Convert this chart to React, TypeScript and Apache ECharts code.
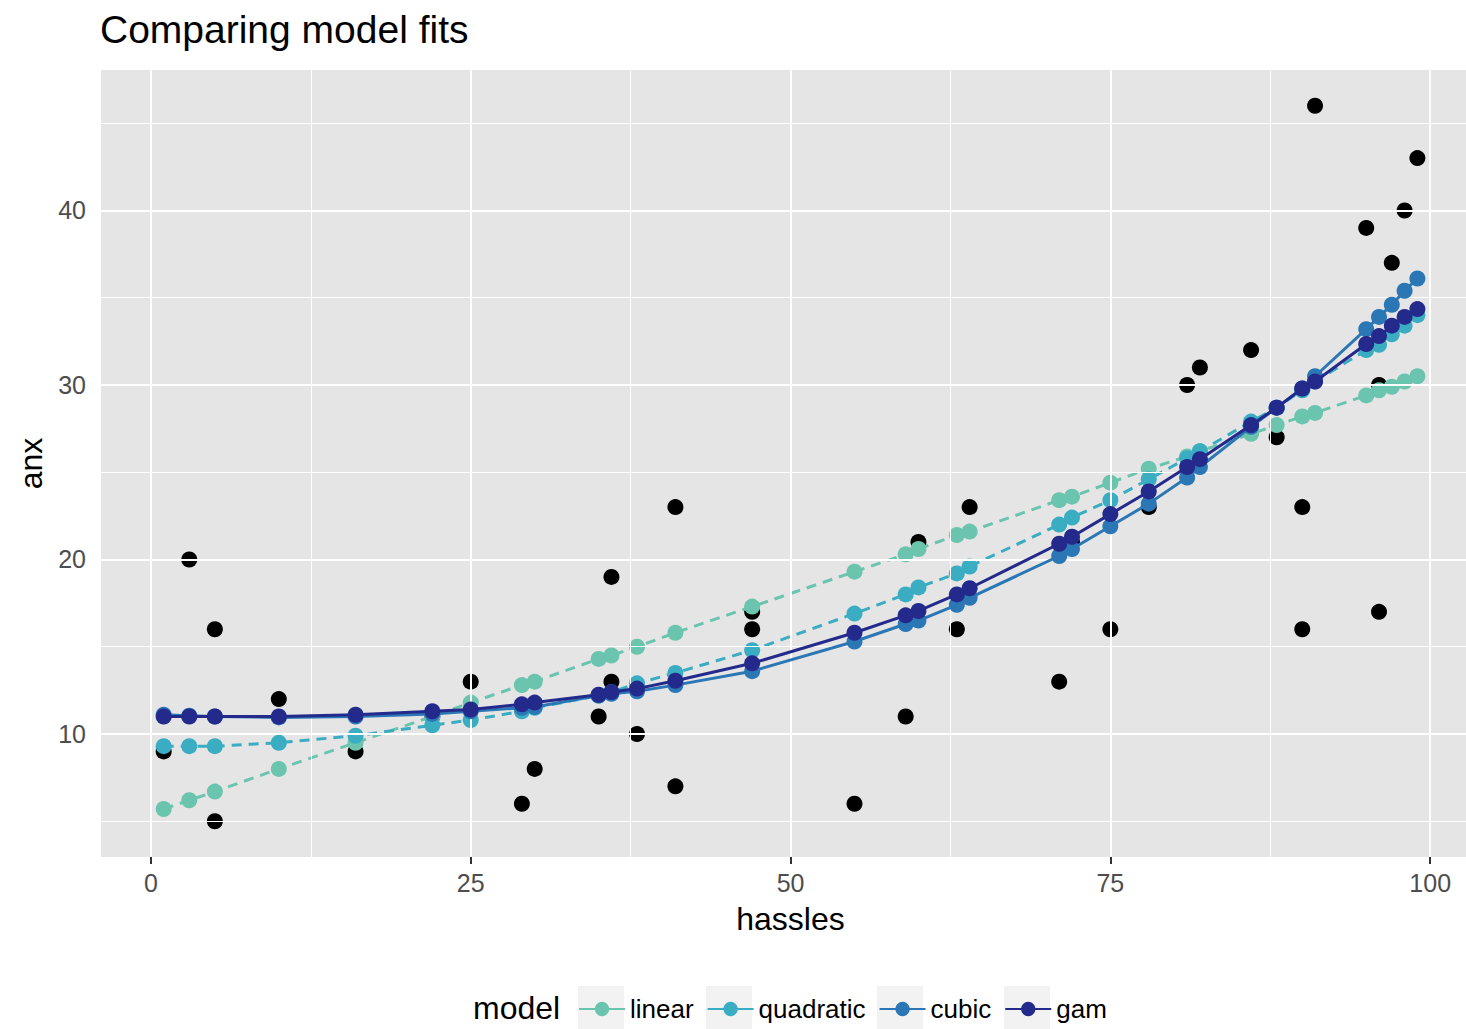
import React, { useEffect, useRef } from "react";
import * as echarts from "echarts";

// prediction grid (unique hassles values)
const hassles = [1, 3, 5, 10, 16, 22, 25, 29, 30, 35, 36, 38, 41, 47, 55, 59, 60, 63, 64, 71, 72, 75, 78, 81, 82, 86, 88, 90, 91, 95, 96, 97, 98, 99];

// observed data
const obsHassles = [1, 3, 5, 5, 10, 16, 22, 25, 29, 30, 35, 36, 36, 38, 41, 41, 47, 47, 55, 59, 60, 63, 64, 71, 72, 75, 78, 81, 82, 86, 88, 90, 90, 91, 95, 96, 96, 97, 98, 99];
const obsAnx = [9, 20, 16, 5, 12, 9, 11, 13, 6, 8, 11, 19, 13, 10, 23, 7, 17, 16, 6, 11, 21, 16, 23, 13, 21, 16, 23, 30, 31, 32, 27, 23, 16, 46, 39, 17, 30, 37, 40, 43];

// model predictions
const linear = [5.7, 6.2, 6.7, 8.0, 9.5, 11.0, 11.8, 12.8, 13.0, 14.3, 14.5, 15.0, 15.8, 17.3, 19.3, 20.3, 20.6, 21.4, 21.6, 23.4, 23.6, 24.4, 25.2, 25.9, 26.2, 27.2, 27.7, 28.2, 28.4, 29.4, 29.7, 29.9, 30.2, 30.5];
const quadratic = [9.3, 9.3, 9.3, 9.5, 9.9, 10.5, 10.8, 11.3, 11.5, 12.2, 12.4, 12.9, 13.5, 14.8, 16.9, 18.0, 18.4, 19.2, 19.6, 22.0, 22.4, 23.4, 24.6, 25.8, 26.2, 27.9, 28.7, 29.7, 30.2, 32.0, 32.3, 32.9, 33.4, 34.0];
const cubic = [11.1, 11.05, 11.0, 10.95, 11.0, 11.15, 11.3, 11.5, 11.55, 12.2, 12.3, 12.45, 12.8, 13.6, 15.3, 16.3, 16.5, 17.4, 17.8, 20.2, 20.6, 21.9, 23.2, 24.7, 25.3, 27.6, 28.7, 29.8, 30.5, 33.2, 33.9, 34.6, 35.4, 36.1];
const gam = [11.0, 11.0, 11.0, 11.0, 11.1, 11.3, 11.4, 11.7, 11.8, 12.25, 12.4, 12.6, 13.05, 14.05, 15.8, 16.8, 17.05, 18.0, 18.35, 20.9, 21.3, 22.6, 23.9, 25.3, 25.75, 27.7, 28.7, 29.8, 30.2, 32.35, 32.8, 33.4, 33.9, 34.35];

const modelNames = ["linear", "quadratic", "cubic", "gam"];
const modelValues = [linear, quadratic, cubic, gam];
const modelColors = ["#6BC4AD", "#3BADC2", "#2B76B4", "#232A8C"];
const modelDashed = [true, true, false, false];

// axes
const xMajor = [0, 25, 50, 75, 100];
const xMinor = [12.5, 37.5, 62.5, 87.5];
const yMajor = [10, 20, 30, 40];
const yMinor = [5, 15, 25, 35, 45];
const xLimits = [-3.9, 102.8];
const yLimits = [2.95, 48.05];

const FONT = "'Liberation Sans', Arial, Helvetica, sans-serif";

export default function App() {
  const ref = useRef<HTMLDivElement>(null);
  useEffect(() => {
    document.body.style.margin = "0";
    const chart = echarts.init(ref.current as HTMLDivElement, null, { renderer: "svg" });

    const gridSeries = [
      {
        type: "line",
        name: "gridMinor",
        data: [],
        z: 1,
        silent: true,
        markLine: {
          silent: true,
          symbol: "none",
          animation: false,
          label: { show: false },
          lineStyle: { color: "#FFFFFF", width: 1, type: "solid" },
          emphasis: { disabled: true },
          data: [...xMinor.map((v) => ({ xAxis: v })), ...yMinor.map((v) => ({ yAxis: v }))],
        },
      },
      {
        type: "line",
        name: "gridMajor",
        data: [],
        z: 1,
        silent: true,
        markLine: {
          silent: true,
          symbol: "none",
          animation: false,
          label: { show: false },
          lineStyle: { color: "#FFFFFF", width: 2, type: "solid" },
          emphasis: { disabled: true },
          data: [...xMajor.map((v) => ({ xAxis: v })), ...yMajor.map((v) => ({ yAxis: v }))],
        },
      },
    ];

    const obsSeries = {
      type: "scatter",
      name: "observed",
      data: obsHassles.map((h, i) => [h, obsAnx[i]]),
      symbol: "circle",
      symbolSize: 16,
      itemStyle: { color: "#000000", opacity: 1 },
      z: 2,
      silent: true,
    };

    const modelSeries = modelNames.map((name, k) => ({
      type: "line",
      name,
      data: hassles.map((h, i) => [h, modelValues[k][i]]),
      symbol: "circle",
      symbolSize: 16,
      showSymbol: true,
      lineStyle: { color: modelColors[k], width: 3, type: modelDashed[k] ? [10, 7] : "solid" },
      itemStyle: { color: modelColors[k], opacity: 1 },
      z: 3 + k,
      silent: true,
    }));

    const keyLefts = [578, 706, 877, 1004];

    chart.setOption({
      animation: false,
      backgroundColor: "#FFFFFF",
      textStyle: { fontFamily: FONT },
      title: [
        {
          text: "Comparing model fits",
          left: 95,
          top: 5,
          textStyle: { fontSize: 39, fontWeight: "normal", color: "#000000", fontFamily: FONT },
        },
        {
          text: "model",
          left: 468,
          top: 987,
          textStyle: { fontSize: 32, fontWeight: "normal", color: "#000000", fontFamily: FONT },
        },
      ],
      graphic: keyLefts.map((l) => ({
        type: "rect",
        left: l,
        top: 986,
        z: -1,
        silent: true,
        shape: { width: 46, height: 46 },
        style: { fill: "#F2F2F2" },
      })),
      legend: {
        data: modelNames,
        left: 573,
        top: 991,
        itemWidth: 46,
        itemHeight: 18,
        itemGap: 13,
        orient: "horizontal",
        lineStyle: { type: "solid" },
        textStyle: { fontSize: 26, color: "#000000", fontFamily: FONT },
        selectedMode: false,
      },
      grid: {
        left: 101,
        top: 70,
        right: 0,
        height: 787,
        show: true,
        backgroundColor: "#E5E5E5",
        borderWidth: 0,
        containLabel: false,
      },
      xAxis: {
        type: "value",
        min: xLimits[0],
        max: xLimits[1],
        name: "hassles",
        nameLocation: "middle",
        nameGap: 46,
        nameTextStyle: { fontSize: 32, color: "#000000", fontFamily: FONT, padding: [0, 0, 0, 14] },
        axisLine: { show: false },
        splitLine: { show: false },
        axisTick: { show: true, customValues: xMajor, length: 7, lineStyle: { color: "#333333", width: 2 } },
        axisLabel: { customValues: xMajor, fontSize: 25, color: "#4D4D4D", margin: 13, fontFamily: FONT },
      },
      yAxis: {
        type: "value",
        min: yLimits[0],
        max: yLimits[1],
        name: "anx",
        nameLocation: "middle",
        nameGap: 52,
        nameRotate: 90,
        nameTextStyle: { fontSize: 32, color: "#000000", fontFamily: FONT },
        axisLine: { show: false },
        splitLine: { show: false },
        axisTick: { show: true, customValues: yMajor, length: 7, lineStyle: { color: "#333333", width: 2 } },
        axisLabel: { customValues: yMajor, fontSize: 25, color: "#4D4D4D", margin: 15, fontFamily: FONT },
      },
      series: [...gridSeries, obsSeries, ...modelSeries],
    });

    return () => chart.dispose();
  }, []);
  return <div ref={ref} style={{ width: 1466, height: 1029, overflow: "hidden" }} />;
}
